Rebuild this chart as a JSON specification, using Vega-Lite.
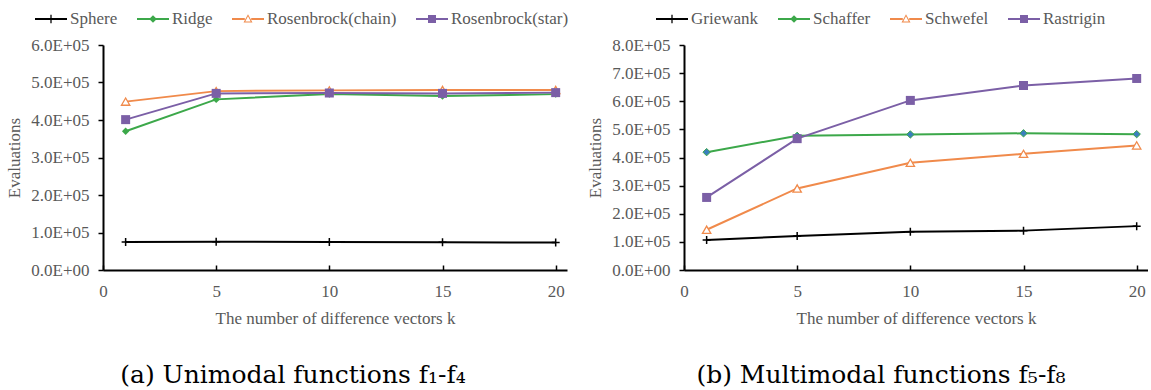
{
  "$schema": "https://vega.github.io/schema/vega-lite/v6.json",
  "padding": {"left": 5, "top": 3, "right": 0, "bottom": 0},
  "background": "white",
  "datasets": {
    "uni": [
      {"k": 1, "series": "Sphere", "v": 75000},
      {"k": 5, "series": "Sphere", "v": 75500},
      {"k": 10, "series": "Sphere", "v": 74500},
      {"k": 15, "series": "Sphere", "v": 73800},
      {"k": 20, "series": "Sphere", "v": 73500},
      {"k": 1, "series": "Ridge", "v": 370000},
      {"k": 5, "series": "Ridge", "v": 455000},
      {"k": 10, "series": "Ridge", "v": 469000},
      {"k": 15, "series": "Ridge", "v": 464000},
      {"k": 20, "series": "Ridge", "v": 469000},
      {"k": 1, "series": "Rosenbrock(chain)", "v": 449000},
      {"k": 5, "series": "Rosenbrock(chain)", "v": 477000},
      {"k": 10, "series": "Rosenbrock(chain)", "v": 479000},
      {"k": 15, "series": "Rosenbrock(chain)", "v": 480000},
      {"k": 20, "series": "Rosenbrock(chain)", "v": 480000},
      {"k": 1, "series": "Rosenbrock(star)", "v": 401000},
      {"k": 5, "series": "Rosenbrock(star)", "v": 471000},
      {"k": 10, "series": "Rosenbrock(star)", "v": 472000},
      {"k": 15, "series": "Rosenbrock(star)", "v": 471000},
      {"k": 20, "series": "Rosenbrock(star)", "v": 473000}
    ],
    "multi": [
      {"k": 1, "series": "Griewank", "v": 107000},
      {"k": 5, "series": "Griewank", "v": 121000},
      {"k": 10, "series": "Griewank", "v": 136000},
      {"k": 15, "series": "Griewank", "v": 140000},
      {"k": 20, "series": "Griewank", "v": 156000},
      {"k": 1, "series": "Schaffer", "v": 419000},
      {"k": 5, "series": "Schaffer", "v": 477000},
      {"k": 10, "series": "Schaffer", "v": 482000},
      {"k": 15, "series": "Schaffer", "v": 486000},
      {"k": 20, "series": "Schaffer", "v": 483000},
      {"k": 1, "series": "Schwefel", "v": 143000},
      {"k": 5, "series": "Schwefel", "v": 290000},
      {"k": 10, "series": "Schwefel", "v": 381000},
      {"k": 15, "series": "Schwefel", "v": 413000},
      {"k": 20, "series": "Schwefel", "v": 443000},
      {"k": 1, "series": "Rastrigin", "v": 258000},
      {"k": 5, "series": "Rastrigin", "v": 467000},
      {"k": 10, "series": "Rastrigin", "v": 603000},
      {"k": 15, "series": "Rastrigin", "v": 656000},
      {"k": 20, "series": "Rastrigin", "v": 681000}
    ]
  },
  "spacing": 17,
  "resolve": {
    "scale": {"color": "independent", "shape": "independent", "y": "independent", "x": "independent"},
    "legend": {"color": "independent", "shape": "independent"}
  },
  "hconcat": [
    {
      "width": 464,
      "height": 225,
      "data": {"name": "uni"},
      "title": {"text": "(a) Unimodal functions f₁-f₄", "orient": "bottom", "anchor": "middle", "frame": "group", "dx": -42, "offset": 37, "font": "DejaVu Serif", "fontSize": 25, "fontWeight": "normal", "color": "black"},
      "encoding": {
        "x": {"field": "k", "type": "quantitative", "title": "The number of difference vectors k", "scale": {"domain": [0, 20.5], "nice": false}, "axis": {"values": [0, 5, 10, 15, 20], "labelFont": "Liberation Serif", "titleFont": "Liberation Serif"}},
        "y": {"field": "v", "type": "quantitative", "title": "Evaluations", "scale": {"domain": [0, 600000], "nice": false}, "axis": {"values": [0, 100000, 200000, 300000, 400000, 500000, 600000], "labelFont": "Liberation Serif", "titleFont": "Liberation Serif", "labelExpr": "datum.value == 0 ? '0.0E+00' : format(datum.value / 100000, '.1f') + 'E+05'"}}
      },
      "layer": [
        {
          "transform": [{"filter": "datum.series == 'Sphere'"}],
          "mark": {"type": "line", "stroke": "#000000", "strokeWidth": 2, "point": {"shape": "M-1,0H1M0,-1V1", "filled": false, "fill": null, "stroke": "#000000", "strokeWidth": 1.5, "size": 64, "opacity": 1}}
        },
        {
          "transform": [{"filter": "datum.series == 'Ridge'"}],
          "mark": {"type": "line", "stroke": "#3ca84a", "strokeWidth": 2, "point": {"shape": "diamond", "filled": true, "fill": "#3ca84a", "size": 55, "opacity": 1}}
        },
        {
          "transform": [{"filter": "datum.series == 'Rosenbrock(chain)'"}],
          "mark": {"type": "line", "stroke": "#f08a4b", "strokeWidth": 2, "point": {"shape": "triangle-up", "filled": false, "fill": "#ffffff", "stroke": "#f08a4b", "strokeWidth": 1.3, "size": 70, "opacity": 1}}
        },
        {
          "transform": [{"filter": "datum.series == 'Rosenbrock(star)'"}],
          "mark": {"type": "line", "stroke": "#7b5fa6", "strokeWidth": 2, "point": {"shape": "square", "filled": true, "fill": "#7b5fa6", "size": 81, "opacity": 1}}
        },
        {
          "mark": {"type": "point", "filled": true, "opacity": 0},
          "encoding": {
            "color": {"field": "series", "type": "nominal", "scale": {"domain": ["Sphere", "Ridge", "Rosenbrock(chain)", "Rosenbrock(star)"], "range": ["#000000", "#3ca84a", "#f08a4b", "#7b5fa6"]},
              "legend": {"title": null, "orient": "none", "direction": "horizontal", "legendX": -68, "legendY": -42, "symbolSize": 1024, "symbolStrokeWidth": 0, "symbolOpacity": 1, "labelOffset": 3, "columnPadding": 19, "padding": 0}},
            "shape": {"field": "series", "type": "nominal", "scale": {"domain": ["Sphere", "Ridge", "Rosenbrock(chain)", "Rosenbrock(star)"], "range": [
              "M-1,-0.06H1V0.06H-1Z M-0.04,-0.26H0.04V0.26H-0.04Z",
              "M-1,-0.06H1V0.06H-1Z M0,-0.24L0.24,0L0,0.24L-0.24,0Z",
              "M-1,-0.06H-0.2V0.06H-1Z M0.2,-0.06H1V0.06H0.2Z M0,-0.3L0.28,0.22L-0.28,0.22Z M0,-0.17L-0.17,0.15L0.17,0.15Z",
              "M-1,-0.06H1V0.06H-1Z M-0.25,-0.25H0.25V0.25H-0.25Z"
            ]},
              "legend": {"title": null, "orient": "none", "direction": "horizontal", "legendX": -68, "legendY": -42, "symbolSize": 1024, "symbolStrokeWidth": 0, "symbolOpacity": 1, "labelOffset": 3, "columnPadding": 19, "padding": 0}}
          }
        }
      ]
    },
    {
      "width": 464,
      "height": 225,
      "data": {"name": "multi"},
      "title": {"text": "(b) Multimodal functions f₅-f₈", "orient": "bottom", "anchor": "middle", "frame": "group", "dx": -35, "offset": 37, "font": "DejaVu Serif", "fontSize": 25, "fontWeight": "normal", "color": "black"},
      "encoding": {
        "x": {"field": "k", "type": "quantitative", "title": "The number of difference vectors k", "scale": {"domain": [0, 20.5], "nice": false}, "axis": {"values": [0, 5, 10, 15, 20], "labelFont": "Liberation Serif", "titleFont": "Liberation Serif"}},
        "y": {"field": "v", "type": "quantitative", "title": "Evaluations", "scale": {"domain": [0, 800000], "nice": false}, "axis": {"values": [0, 100000, 200000, 300000, 400000, 500000, 600000, 700000, 800000], "labelFont": "Liberation Serif", "titleFont": "Liberation Serif", "labelExpr": "datum.value == 0 ? '0.0E+00' : format(datum.value / 100000, '.1f') + 'E+05'"}}
      },
      "layer": [
        {
          "transform": [{"filter": "datum.series == 'Griewank'"}],
          "mark": {"type": "line", "stroke": "#000000", "strokeWidth": 2, "point": {"shape": "M-1,0H1M0,-1V1", "filled": false, "fill": null, "stroke": "#000000", "strokeWidth": 1.5, "size": 64, "opacity": 1}}
        },
        {
          "transform": [{"filter": "datum.series == 'Schaffer'"}],
          "mark": {"type": "line", "stroke": "#3ca84a", "strokeWidth": 2, "point": {"shape": "diamond", "filled": true, "fill": "#3a7fbd", "stroke": "#3ca84a", "strokeWidth": 1, "size": 55, "opacity": 1}}
        },
        {
          "transform": [{"filter": "datum.series == 'Schwefel'"}],
          "mark": {"type": "line", "stroke": "#f08a4b", "strokeWidth": 2, "point": {"shape": "triangle-up", "filled": false, "fill": "#ffffff", "stroke": "#f08a4b", "strokeWidth": 1.3, "size": 70, "opacity": 1}}
        },
        {
          "transform": [{"filter": "datum.series == 'Rastrigin'"}],
          "mark": {"type": "line", "stroke": "#7b5fa6", "strokeWidth": 2, "point": {"shape": "square", "filled": true, "fill": "#7b5fa6", "size": 81, "opacity": 1}}
        },
        {
          "mark": {"type": "point", "filled": true, "opacity": 0},
          "encoding": {
            "color": {"field": "series", "type": "nominal", "scale": {"domain": ["Griewank", "Schaffer", "Schwefel", "Rastrigin"], "range": ["#000000", "#3ca84a", "#f08a4b", "#7b5fa6"]},
              "legend": {"title": null, "orient": "none", "direction": "horizontal", "legendX": -28, "legendY": -42, "symbolSize": 1024, "symbolStrokeWidth": 0, "symbolOpacity": 1, "labelOffset": 3, "columnPadding": 19, "padding": 0}},
            "shape": {"field": "series", "type": "nominal", "scale": {"domain": ["Griewank", "Schaffer", "Schwefel", "Rastrigin"], "range": [
              "M-1,-0.06H1V0.06H-1Z M-0.04,-0.26H0.04V0.26H-0.04Z",
              "M-1,-0.06H1V0.06H-1Z M0,-0.24L0.24,0L0,0.24L-0.24,0Z",
              "M-1,-0.06H-0.2V0.06H-1Z M0.2,-0.06H1V0.06H0.2Z M0,-0.3L0.28,0.22L-0.28,0.22Z M0,-0.17L-0.17,0.15L0.17,0.15Z",
              "M-1,-0.06H1V0.06H-1Z M-0.25,-0.25H0.25V0.25H-0.25Z"
            ]},
              "legend": {"title": null, "orient": "none", "direction": "horizontal", "legendX": -28, "legendY": -42, "symbolSize": 1024, "symbolStrokeWidth": 0, "symbolOpacity": 1, "labelOffset": 3, "columnPadding": 19, "padding": 0}}
          }
        }
      ]
    }
  ],
  "config": {
    "view": {"stroke": null},
    "axis": {
      "grid": false,
      "domainColor": "#000000",
      "domainWidth": 2,
      "tickColor": "#000000",
      "tickWidth": 1.5,
      "labelFont": "Liberation Serif",
      "labelFontSize": 17,
      "labelColor": "#595959",
      "titleFont": "Liberation Serif",
      "titleFontSize": 17,
      "titleFontWeight": "normal",
      "titleColor": "#595959"
    },
    "axisX": {"tickSize": -5, "labelPadding": 18, "titlePadding": 11, "labelFlush": false},
    "axisY": {"tickSize": 5, "labelPadding": 9, "titlePadding": 7},
    "legend": {"labelFont": "Liberation Serif", "labelFontSize": 17, "labelColor": "#595959", "rowPadding": 0}
  }
}
